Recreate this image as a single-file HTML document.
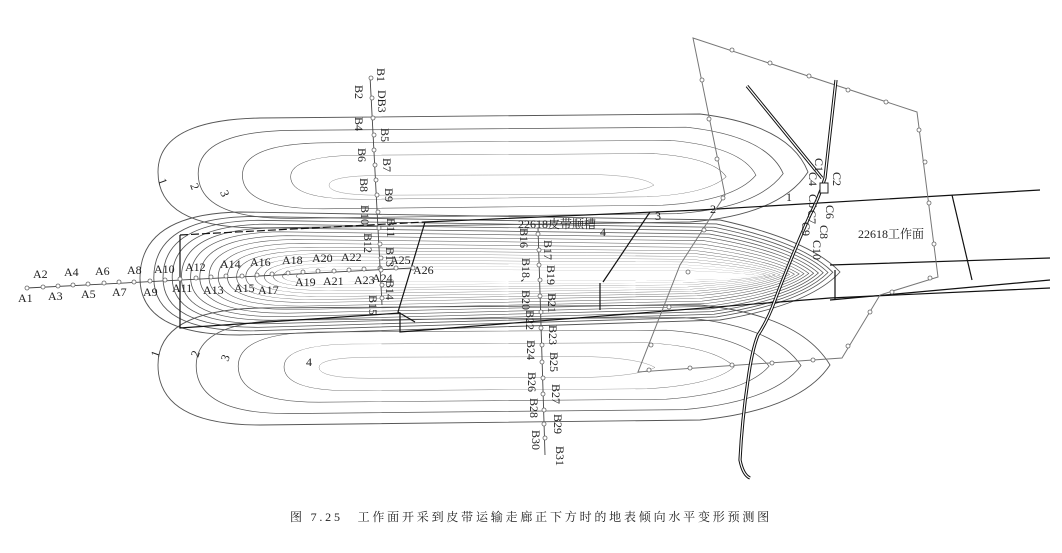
<!DOCTYPE html>
<html><head><meta charset="utf-8"><style>
html,body{margin:0;padding:0;background:#fff;width:1062px;height:553px;overflow:hidden}
svg{display:block}
text{font-family:"Liberation Serif","Noto Serif CJK SC",serif;font-size:12px;fill:#222}
.c{fill:none;stroke:#555;stroke-width:0.9;vector-effect:non-scaling-stroke}
.k{fill:none;stroke:#111;stroke-width:1.2}
.g{fill:none;stroke:#777;stroke-width:1}
.p{fill:#fff;stroke:#666;stroke-width:0.8}
</style></head><body>
<svg width="1062" height="553" viewBox="0 0 1062 553" xmlns="http://www.w3.org/2000/svg">
<defs>
<path id="L1" d="M260,118 Q158,120 158,172 Q158,228 260,228 L690,222 Q780,215 808,172 Q790,125 700,114 Z"/>
<path id="L2" d="M240,212 Q140,214 140,278 Q140,335 240,335 L720,320 Q810,305 840,272 Q810,240 720,220 Z"/>
<path id="L3" d="M260,308 Q158,310 158,365 Q158,425 260,425 L700,420 Q800,410 830,365 Q800,315 700,305 Z"/>
</defs>
<g class="c">
<use href="#L1"/>
<use href="#L1" transform="translate(560,180) scale(.9,.8) translate(-560,-180)"/>
<use href="#L1" transform="translate(560,180) scale(.79,.6) translate(-560,-180)"/>
<use href="#L1" transform="translate(560,180) scale(.67,.4) translate(-560,-180)"/>
<use href="#L1" transform="translate(500,188) scale(.5,.18) translate(-500,-188)"/>
</g>
<g class="c">
<use href="#L2"/>
<use href="#L2" transform="translate(600,276) scale(.97,.93) translate(-600,-276)"/>
<use href="#L2" transform="translate(600,276) scale(.95,.87) translate(-600,-276)"/>
<use href="#L2" transform="translate(600,276) scale(.93,.81) translate(-600,-276)"/>
<use href="#L2" transform="translate(600,276) scale(.91,.75) translate(-600,-276)"/>
<use href="#L2" transform="translate(600,276) scale(.89,.69) translate(-600,-276)"/>
<use href="#L2" transform="translate(600,276) scale(.87,.63) translate(-600,-276)"/>
<use href="#L2" transform="translate(600,276) scale(.85,.57) translate(-600,-276)"/>
<use href="#L2" transform="translate(600,276) scale(.83,.51) translate(-600,-276)"/>
<use href="#L2" transform="translate(600,276) scale(.81,.45) translate(-600,-276)"/>
<use href="#L2" transform="translate(600,276) scale(.79,.40) translate(-600,-276)"/>
<use href="#L2" transform="translate(600,276) scale(.77,.35) translate(-600,-276)"/>
<use href="#L2" transform="translate(600,276) scale(.75,.30) translate(-600,-276)"/>
<use href="#L2" transform="translate(600,276) scale(.73,.25) translate(-600,-276)"/>
<use href="#L2" transform="translate(600,276) scale(.71,.20) translate(-600,-276)"/>
<use href="#L2" transform="translate(600,276) scale(.69,.15) translate(-600,-276)"/>
<use href="#L2" transform="translate(600,276) scale(.66,.10) translate(-600,-276)"/>
</g>
<g class="c">
<use href="#L3"/>
<use href="#L3" transform="translate(540,368) scale(.9,.8) translate(-540,-368)"/>
<use href="#L3" transform="translate(540,368) scale(.79,.6) translate(-540,-368)"/>
<use href="#L3" transform="translate(540,368) scale(.67,.4) translate(-540,-368)"/>
<use href="#L3" transform="translate(480,368) scale(.5,.18) translate(-480,-368)"/>
</g>
<g class="k">
<path d="M180,235 L180,328 L400,313 L400,332 L830,298 L1050,288" />
<path d="M180,235 L425,222" stroke-dasharray="8,3"/>
<path d="M425,222 L700,210 L1040,190"/>
<path d="M425,222 L398,312 L415,322"/>
<path d="M830,300 L1050,280 M830,265 L1050,258 M835,270 L835,300 M952,195 L972,280"/>
<path d="M600,283 L600,310 M650,212 L603,282"/>
</g>
<path class="g" d="M693,38 L917,112 L938,277 L880,295 L842,358 L638,372 L680,265 L725,195 Z"/>
<g class="p">
<circle cx="732" cy="50" r="2"/><circle cx="770" cy="63" r="2"/><circle cx="809" cy="76" r="2"/><circle cx="848" cy="90" r="2"/><circle cx="886" cy="102" r="2"/>
<circle cx="919" cy="130" r="2"/><circle cx="925" cy="162" r="2"/><circle cx="929" cy="203" r="2"/><circle cx="934" cy="244" r="2"/><circle cx="930" cy="278" r="2"/>
<circle cx="892" cy="292" r="2"/><circle cx="870" cy="312" r="2"/><circle cx="848" cy="346" r="2"/><circle cx="813" cy="360" r="2"/><circle cx="772" cy="363" r="2"/><circle cx="732" cy="365" r="2"/><circle cx="690" cy="368" r="2"/><circle cx="649" cy="370" r="2"/>
<circle cx="651" cy="345" r="2"/><circle cx="669" cy="307" r="2"/><circle cx="688" cy="272" r="2"/><circle cx="704" cy="230" r="2"/><circle cx="723" cy="198" r="2"/><circle cx="717" cy="159" r="2"/><circle cx="709" cy="119" r="2"/><circle cx="702" cy="80" r="2"/>
</g>
<g fill="none" stroke="#111" stroke-width="3.2"><path d="M836,80 L825,178 Q818,200 810,215 Q790,260 775,300 Q768,320 758,335 Q752,350 748,380 Q742,420 740,460 Q743,475 750,478"/><path d="M747,86 L822,178"/></g>
<g fill="none" stroke="#fff" stroke-width="1.2"><path d="M836,80 L825,178 Q818,200 810,215 Q790,260 775,300 Q768,320 758,335 Q752,350 748,380 Q742,420 740,460 Q743,475 750,478"/><path d="M747,86 L822,178"/></g>
<rect x="820" y="183" width="8" height="10" fill="#fff" stroke="#222"/>
<path d="M27,288 L413,268" stroke="#444" stroke-width="0.9"/>
<g class="p">
<circle cx="27" cy="288" r="2"/><circle cx="43" cy="287" r="2"/><circle cx="58" cy="286" r="2"/><circle cx="73" cy="285" r="2"/><circle cx="88" cy="284" r="2"/><circle cx="104" cy="283" r="2"/><circle cx="119" cy="282" r="2"/><circle cx="134" cy="282" r="2"/><circle cx="150" cy="281" r="2"/><circle cx="165" cy="280" r="2"/><circle cx="180" cy="279" r="2"/><circle cx="196" cy="278" r="2"/><circle cx="211" cy="277" r="2"/><circle cx="226" cy="276" r="2"/><circle cx="242" cy="276" r="2"/><circle cx="257" cy="275" r="2"/><circle cx="272" cy="274" r="2"/><circle cx="288" cy="273" r="2"/><circle cx="303" cy="272" r="2"/><circle cx="318" cy="271" r="2"/><circle cx="334" cy="271" r="2"/><circle cx="349" cy="270" r="2"/><circle cx="364" cy="269" r="2"/><circle cx="380" cy="268" r="2"/><circle cx="396" cy="268" r="2"/><circle cx="413" cy="268" r="2"/>
</g>
<path d="M370,76 L382,305 M538,228 L545,455" stroke="#444" stroke-width="0.9"/>
<g class="p">
<circle cx="371" cy="78" r="2"/><circle cx="372" cy="98" r="2"/><circle cx="373" cy="118" r="2"/><circle cx="374" cy="135" r="2"/><circle cx="374" cy="150" r="2"/><circle cx="375" cy="165" r="2"/><circle cx="376" cy="180" r="2"/><circle cx="377" cy="195" r="2"/><circle cx="378" cy="212" r="2"/><circle cx="379" cy="228" r="2"/><circle cx="380" cy="244" r="2"/><circle cx="381" cy="258" r="2"/><circle cx="381" cy="270" r="2"/><circle cx="382" cy="285" r="2"/><circle cx="382" cy="298" r="2"/>
<circle cx="538" cy="234" r="2"/><circle cx="539" cy="250" r="2"/><circle cx="539" cy="265" r="2"/><circle cx="540" cy="280" r="2"/><circle cx="540" cy="296" r="2"/><circle cx="541" cy="312" r="2"/><circle cx="541" cy="328" r="2"/><circle cx="542" cy="345" r="2"/><circle cx="542" cy="362" r="2"/><circle cx="543" cy="378" r="2"/><circle cx="543" cy="394" r="2"/><circle cx="544" cy="410" r="2"/><circle cx="544" cy="424" r="2"/><circle cx="545" cy="438" r="2"/>
</g>
<g>
<text x="33" y="278">A2</text><text x="64" y="276">A4</text><text x="95" y="275">A6</text><text x="127" y="274">A8</text><text x="154" y="273">A10</text><text x="185" y="271">A12</text><text x="220" y="268">A14</text><text x="250" y="266">A16</text><text x="282" y="264">A18</text><text x="312" y="262">A20</text><text x="341" y="261">A22</text><text x="390" y="264">A25</text>
<text x="18" y="302">A1</text><text x="48" y="300">A3</text><text x="81" y="298">A5</text><text x="112" y="296">A7</text><text x="143" y="296">A9</text><text x="172" y="292">A11</text><text x="203" y="294">A13</text><text x="234" y="292">A15</text><text x="258" y="294">A17</text><text x="295" y="286">A19</text><text x="323" y="285">A21</text><text x="354" y="284">A23</text><text x="372" y="282">A24</text><text x="413" y="274">A26</text>
</g>
<g>
<text transform="translate(377,68) rotate(90)">B1</text>
<text transform="translate(355,85) rotate(90)">B2</text>
<text transform="translate(378,90) rotate(90)">DB3</text>
<text transform="translate(355,117) rotate(90)">B4</text>
<text transform="translate(381,128) rotate(90)">B5</text>
<text transform="translate(358,148) rotate(90)">B6</text>
<text transform="translate(383,158) rotate(90)">B7</text>
<text transform="translate(360,178) rotate(90)">B8</text>
<text transform="translate(385,188) rotate(90)">B9</text>
<text transform="translate(361,205) rotate(90)">B10</text>
<text transform="translate(387,218) rotate(90)">B11</text>
<text transform="translate(364,233) rotate(90)">B12</text>
<text transform="translate(386,247) rotate(90)">B13</text>
<text transform="translate(386,280) rotate(90)">B14</text>
<text transform="translate(369,295) rotate(90)">B15</text>
<text transform="translate(520,228) rotate(90)">B16</text>
<text transform="translate(544,240) rotate(90)">B17</text>
<text transform="translate(522,258) rotate(90)">B18、B20</text>
<text transform="translate(547,265) rotate(90)">B19</text>
<text transform="translate(548,293) rotate(90)">B21</text>
<text transform="translate(526,310) rotate(90)">B22</text>
<text transform="translate(549,325) rotate(90)">B23</text>
<text transform="translate(527,340) rotate(90)">B24</text>
<text transform="translate(550,352) rotate(90)">B25</text>
<text transform="translate(528,372) rotate(90)">B26</text>
<text transform="translate(552,384) rotate(90)">B27</text>
<text transform="translate(530,398) rotate(90)">B28</text>
<text transform="translate(554,414) rotate(90)">B29</text>
<text transform="translate(532,430) rotate(90)">B30</text>
<text transform="translate(556,446) rotate(90)">B31</text>
</g>
<g>
<text transform="translate(815,158) rotate(90)">C1</text>
<text transform="translate(833,172) rotate(90)">C2</text>
<text transform="translate(809,172) rotate(90)">C4</text>
<text transform="translate(809,194) rotate(90)">C5</text>
<text transform="translate(826,205) rotate(90)">C6</text>
<text transform="translate(808,210) rotate(90)">C7</text>
<text transform="translate(802,222) rotate(90)">C9</text>
<text transform="translate(820,225) rotate(90)">C8</text>
<text transform="translate(813,240) rotate(90)">C10</text>
</g>
<g>
<text transform="translate(158,180) rotate(70)">1</text>
<text transform="translate(190,185) rotate(70)">2</text>
<text transform="translate(220,192) rotate(70)">3</text>
<text transform="translate(158,358) rotate(-70)">1</text>
<text transform="translate(198,358) rotate(-70)">2</text>
<text transform="translate(228,362) rotate(-70)">3</text>
<text x="306" y="366">4</text>
<text x="786" y="201">1</text>
<text x="710" y="213">2</text>
<text x="655" y="220">3</text>
<text x="600" y="236">4</text>
</g>
<text x="518" y="228" font-size="13">22618皮带顺槽</text>
<text x="858" y="238" font-size="13">22618工作面</text>
<text x="531" y="521" text-anchor="middle" font-size="14" letter-spacing="2.8" fill="#111">图 7.25　工作面开采到皮带运输走廊正下方时的地表倾向水平变形预测图</text>
</svg>
</body></html>
